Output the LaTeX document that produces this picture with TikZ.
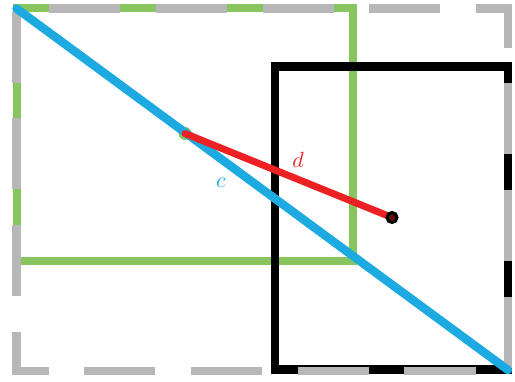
\documentclass[tikz,border=0pt]{standalone}
\begin{document}
\begin{tikzpicture}[x=1pt,y=-1pt,
  grayframe/.style={draw=lgray,line width=8.5pt,dash pattern=on 71.17pt off 35.58pt,dash phase=74.25pt,miter limit=10},
  greenbox/.style={draw=lgreen,line width=8pt},
  blackbox/.style={draw=black,line width=8.5pt},
  lbl/.style={inner sep=0pt,scale=2.2}]
\definecolor{lgray}{RGB}{183,183,185}
\definecolor{lgreen}{RGB}{137,197,95}
\definecolor{lblue}{RGB}{29,170,225}
\definecolor{lred}{RGB}{237,32,36}
\useasboundingbox (0,0) rectangle (515,382);
\coordinate (O) at (16.5,8.5);
\coordinate (G) at (353,261.5);
\coordinate (B1) at (275,66.5);
\coordinate (B2) at (508,369.5);
\coordinate (C) at (508,370);
\coordinate (P) at (185,133.5);
\coordinate (Q) at (392,217.5);
\draw[greenbox] (O) rectangle (G);
\draw[blackbox] (B1) rectangle (B2);
\draw[grayframe] (16.5,8.5) -- (508,8.5) -- (508,371) -- (16.5,371) -- cycle;
\fill[lgreen] (P) circle (6.5pt);
\draw[lblue,line width=8.5pt,line cap=round] (O) -- (C);
\draw[lred,line width=7pt,line cap=round] (P) -- (Q);
\draw[black,line width=3pt,fill=lred!40!black] (Q) circle (5pt);
\node[lbl,text=lred] (d) at (298,159.5) {$d$};
\node[lbl,text=lblue] (c) at (221,183) {$c$};
\end{tikzpicture}
\end{document}
